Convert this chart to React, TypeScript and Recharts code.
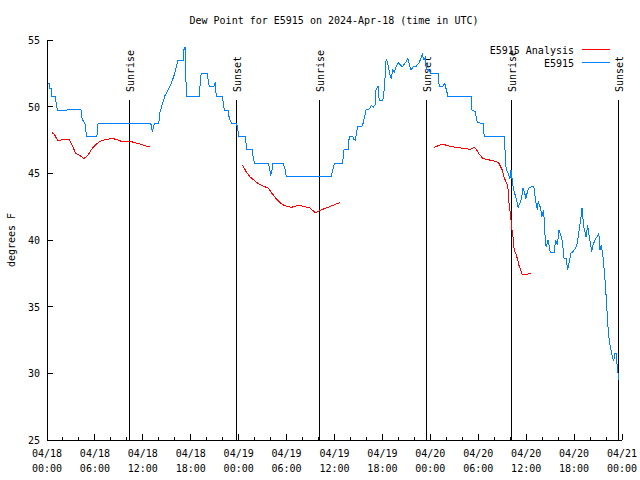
import React from "react";
import { LineChart, Line, XAxis, YAxis, ReferenceLine } from "recharts";

const FONT = "'DejaVu Sans Mono', 'Liberation Mono', monospace";

// hours since 04/18 00:00 UTC, dew point (F)
const observed: [number, number][] = [
  [0, 51.75], [0.25, 51.75], [0.3, 51.4], [0.55, 51.4], [0.6, 50.8], [1.0, 50.8],
  [1.3, 49.75], [2.5, 49.75], [2.6, 49.8], [3.5, 49.8], [4.3, 49.75], [4.4, 49.05],
  [4.75, 48.75], [4.95, 47.8], [6.25, 47.8], [6.4, 48.75], [13.0, 48.75], [13.2, 48.1],
  [13.35, 48.6], [13.5, 48.75], [14.0, 48.75], [14.1, 49.5], [14.35, 50.0], [14.75, 50.8],
  [15.15, 51.25], [15.6, 51.8], [16.0, 52.5], [16.4, 53.5], [17.05, 53.5], [17.1, 54.2],
  [17.3, 54.5], [17.45, 50.8], [19.05, 50.8], [19.3, 52.5], [20.05, 52.5], [20.3, 51.55],
  [20.9, 51.55], [21.05, 51.75], [21.2, 50.8], [21.95, 50.8], [22.2, 49.75], [22.75, 49.75],
  [22.8, 49.15], [23.1, 48.75], [23.7, 48.75], [23.85, 48.5], [24.0, 47.8], [24.8, 47.8],
  [24.9, 47.4], [25.0, 46.8], [25.7, 46.8], [25.8, 46.25], [26.0, 45.75], [27.7, 45.75],
  [27.9, 45.3], [28.0, 44.8], [28.2, 45.3], [28.3, 45.75], [29.6, 45.75], [29.8, 45.3],
  [29.95, 44.8], [35.6, 44.8], [35.8, 45.3], [36.0, 45.75], [37.0, 45.75], [37.1, 46.25],
  [37.2, 46.8], [37.7, 46.8], [37.8, 47.5], [37.95, 47.8], [38.3, 47.8], [38.35, 47.55],
  [38.6, 47.5], [38.9, 48.5], [39.5, 48.55], [39.75, 49.2], [39.95, 49.75], [40.4, 49.85],
  [40.6, 50.1], [40.85, 49.95], [41.1, 50.15], [41.2, 51.25], [41.45, 51.55], [41.6, 50.5],
  [42.05, 50.5], [42.15, 50.9], [42.3, 51.75], [42.4, 53.25], [42.5, 53.6], [42.65, 53.25],
  [42.9, 52.5], [43.1, 52.1], [43.3, 52.75], [43.5, 52.6], [43.7, 53.0], [44.0, 53.3],
  [44.3, 53.1], [44.5, 53.0], [44.7, 53.15], [44.95, 53.35], [45.2, 53.6], [45.4, 53.1],
  [45.6, 52.75], [45.85, 53.0], [46.2, 53.0], [46.6, 53.3], [47.0, 53.9], [47.2, 53.5],
  [47.4, 53.7], [47.5, 52.8], [47.8, 52.75], [48.05, 52.5], [49.0, 52.5], [49.1, 51.55],
  [49.6, 51.55], [49.8, 51.75], [50.2, 50.8], [53.1, 50.8], [53.2, 49.75], [53.6, 49.65],
  [53.9, 48.8], [54.6, 48.75], [54.75, 47.8], [57.25, 47.8], [57.35, 46.75], [57.5, 45.25],
  [57.7, 45.1], [57.96, 44.6], [58.1, 45.25], [58.3, 44.25], [58.5, 43.6], [58.7, 43.25],
  [59.0, 42.45], [59.3, 42.9], [59.45, 43.25], [59.6, 43.9], [59.8, 43.6], [59.95, 43.1],
  [60.15, 43.6], [60.35, 43.9], [60.95, 44.05], [61.2, 42.9], [61.4, 42.25], [61.5, 42.9],
  [61.8, 42.4], [61.96, 41.75], [62.2, 42.25], [62.3, 40.75], [62.5, 39.5], [62.75, 40.0],
  [63.0, 39.1], [63.5, 39.1], [63.7, 40.0], [63.9, 39.6], [64.1, 40.75], [64.3, 40.4],
  [64.5, 40.0], [64.75, 38.6], [65.0, 38.6], [65.2, 37.75], [65.4, 38.4], [65.6, 39.0],
  [65.8, 39.1], [66.2, 39.4], [66.4, 39.75], [66.7, 41.0], [66.9, 41.9], [67.0, 42.4],
  [67.2, 41.0], [67.5, 40.25], [67.7, 41.1], [67.9, 40.25], [68.05, 39.75], [68.2, 39.1],
  [68.35, 39.6], [68.7, 40.1], [68.9, 40.25], [69.1, 40.5], [69.25, 39.25], [69.4, 39.6],
  [69.6, 38.9], [69.75, 37.9], [69.95, 36.4], [70.05, 35.4], [70.2, 33.9], [70.3, 33.0],
  [70.5, 32.1], [70.8, 31.25], [70.95, 30.9], [71.1, 31.5], [71.25, 31.5], [71.3, 31.0],
  [71.4, 30.6], [71.5, 30.0], [71.6, 29.5],
];

// null = gap between analysis runs
const analysis: [number, number | null][] = [
  [0.6, 48.05], [0.9, 47.95], [1.3, 47.5], [1.7, 47.5], [2.8, 47.55], [3.0, 47.3],
  [3.3, 46.9], [3.6, 46.5], [4.1, 46.35], [4.6, 46.1], [5.1, 46.35], [5.7, 46.9],
  [6.3, 47.25], [6.8, 47.45], [7.45, 47.55], [8.2, 47.6], [8.7, 47.55], [9.3, 47.4],
  [10.4, 47.4], [11.0, 47.3], [11.6, 47.2], [12.4, 47.05], [12.9, 47.05],
  [18, null],
  [24.5, 45.6], [24.96, 45.1], [25.4, 44.75], [25.8, 44.55], [26.4, 44.25], [27.0, 44.05],
  [27.7, 43.9], [28.1, 43.55], [28.7, 43.1], [29.3, 42.75], [29.75, 42.57], [30.6, 42.45],
  [31.2, 42.55], [31.6, 42.6], [32.25, 42.5], [32.9, 42.4], [33.5, 42.1], [33.8, 42.1],
  [34.3, 42.25], [35.2, 42.45], [35.8, 42.6], [36.4, 42.75], [36.7, 42.8],
  [42, null],
  [48.5, 46.95], [49.5, 47.2], [50.3, 47.05], [51.2, 46.95], [52.4, 46.85], [53.0, 46.8],
  [53.5, 46.95], [53.7, 46.85], [54.1, 46.45], [54.6, 46.1], [55.4, 46.0], [56.2, 45.9],
  [56.6, 45.75], [57.0, 45.25], [57.2, 44.75], [57.45, 44.4], [57.7, 44.1], [57.8, 43.0],
  [57.96, 42.25], [58.08, 41.6], [58.2, 40.9], [58.4, 40.0], [58.5, 39.25], [58.7, 39.0],
  [58.9, 38.6], [59.1, 38.1], [59.5, 37.4], [59.9, 37.45], [60.25, 37.45], [60.6, 37.5],
];

const sunEvents: [string, number][] = [
  ["Sunrise", 10.3], ["Sunset", 23.7], ["Sunrise", 34.1],
  ["Sunset", 47.55], ["Sunrise", 58.2], ["Sunset", 71.5],
];

const xMajorTicks = [0, 6, 12, 18, 24, 30, 36, 42, 48, 54, 60, 66, 72];
const xTickLabels: [string, string][] = [
  ["04/18", "00:00"], ["04/18", "06:00"], ["04/18", "12:00"], ["04/18", "18:00"],
  ["04/19", "00:00"], ["04/19", "06:00"], ["04/19", "12:00"], ["04/19", "18:00"],
  ["04/20", "00:00"], ["04/20", "06:00"], ["04/20", "12:00"], ["04/20", "18:00"],
  ["04/21", "00:00"],
];
const xAllTicks = Array.from({ length: 37 }, (_, i) => i * 2);
const yTicks = [25, 30, 35, 40, 45, 50, 55];

const series = [
  { name: "E5915 Analysis", color: "#ff0000" },
  { name: "E5915", color: "#0080ff" },
];

const obsData = observed.map(([h, v]) => ({ h, v }));
const anaData = analysis.map(([h, v]) => ({ h, v }));

function BottomTick({ x, y, payload }: any) {
  const i = xMajorTicks.indexOf(payload.value);
  const major = i >= 0;
  return (
    <g>
      <line x1={x} x2={x} y1={y} y2={y - (major ? 6 : 3)} stroke="#000" />
      {major && (
        <text x={x} y={y + 17} textAnchor="middle" fontSize={10} fontFamily={FONT} fill="#000">
          <tspan x={x}>{xTickLabels[i][0]}</tspan>
          <tspan x={x} dy={15}>{xTickLabels[i][1]}</tspan>
        </text>
      )}
    </g>
  );
}

function TopTick({ x, y, payload }: any) {
  const major = xMajorTicks.includes(payload.value);
  return <line x1={x} x2={x} y1={y} y2={y + (major ? 6 : 3)} stroke="#000" />;
}

function LeftTick({ x, y, payload }: any) {
  return (
    <g>
      <line x1={x} x2={x + 6} y1={y} y2={y} stroke="#000" />
      <text x={x - 7} y={y + 4} textAnchor="end" fontSize={10} fontFamily={FONT} fill="#000">
        {payload.value}
      </text>
    </g>
  );
}

function RightTick({ x, y }: any) {
  return <line x1={x} x2={x - 6} y1={y} y2={y} stroke="#000" />;
}

function sunLabel(text: string) {
  return (p: any) => {
    const vb = p.viewBox || {};
    const tx = vb.x + 4.5;
    const ty = vb.y - 8;
    return (
      <text
        x={tx}
        y={ty}
        transform={`rotate(-90 ${tx} ${ty})`}
        fontSize={10}
        fontFamily={FONT}
        fill="#000"
      >
        {text}
      </text>
    );
  };
}

export default function App() {
  return (
    <div style={{ position: "absolute", left: 0, top: 0, width: 640, height: 480, background: "#fff" }}>
      <style>{"svg path, svg line { shape-rendering: crispEdges; }"}</style>
      <LineChart
        width={640}
        height={480}
        margin={{ top: 40, right: 18, bottom: 0, left: 0 }}
      >
        <XAxis
          dataKey="h"
          type="number"
          domain={[0, 72]}
          ticks={xAllTicks}
          interval={0}
          height={40}
          tickSize={0}
          tickMargin={0}
          tickLine={false}
          tick={<BottomTick />}
          axisLine={{ stroke: "#000" }}
          allowDataOverflow
        />
        <XAxis
          xAxisId="top"
          orientation="top"
          type="number"
          domain={[0, 72]}
          ticks={xAllTicks}
          interval={0}
          height={0}
          tickSize={0}
          tickMargin={0}
          tickLine={false}
          tick={<TopTick />}
          axisLine={{ stroke: "#000" }}
          allowDataOverflow
        />
        <YAxis
          type="number"
          domain={[25, 55]}
          ticks={yTicks}
          interval={0}
          width={47}
          tickSize={0}
          tickMargin={0}
          tickLine={false}
          tick={<LeftTick />}
          axisLine={{ stroke: "#000" }}
          allowDataOverflow
        />
        <YAxis
          yAxisId="right"
          orientation="right"
          type="number"
          domain={[25, 55]}
          ticks={yTicks}
          interval={0}
          width={0}
          tickSize={0}
          tickMargin={0}
          tickLine={false}
          tick={<RightTick />}
          axisLine={{ stroke: "#000" }}
          allowDataOverflow
        />
        {sunEvents.map(([name, h], i) => (
          <ReferenceLine
            key={i}
            segment={[{ x: h, y: 25 }, { x: h, y: 50.5 }]}
            stroke="#000"
            strokeWidth={1}
            ifOverflow="visible"
            label={sunLabel(name)}
          />
        ))}
        <Line
          data={anaData}
          dataKey="v"
          name={series[0].name}
          type="linear"
          stroke={series[0].color}
          strokeWidth={1}
          dot={false}
          isAnimationActive={false}
        />
        <Line
          data={obsData}
          dataKey="v"
          name={series[1].name}
          type="linear"
          stroke={series[1].color}
          strokeWidth={1}
          dot={false}
          isAnimationActive={false}
        />
      </LineChart>
      <svg
        width={640}
        height={480}
        style={{ position: "absolute", left: 0, top: 0, pointerEvents: "none" }}
        fontFamily={FONT}
        fontSize={10}
      >
        <text x={334} y={24} textAnchor="middle" fill="#000">
          Dew Point for E5915 on 2024-Apr-18 (time in UTC)
        </text>
        <text x={15} y={240} textAnchor="middle" transform="rotate(-90 15 240)" fill="#000">
          degrees F
        </text>
        {series.map((s, i) => (
          <g key={s.name}>
            <text x={574} y={54 + i * 13} textAnchor="end" fill="#000">
              {s.name}
            </text>
            <line x1={582} x2={610} y1={49.5 + i * 13} y2={49.5 + i * 13} stroke={s.color} />
          </g>
        ))}
      </svg>
    </div>
  );
}
